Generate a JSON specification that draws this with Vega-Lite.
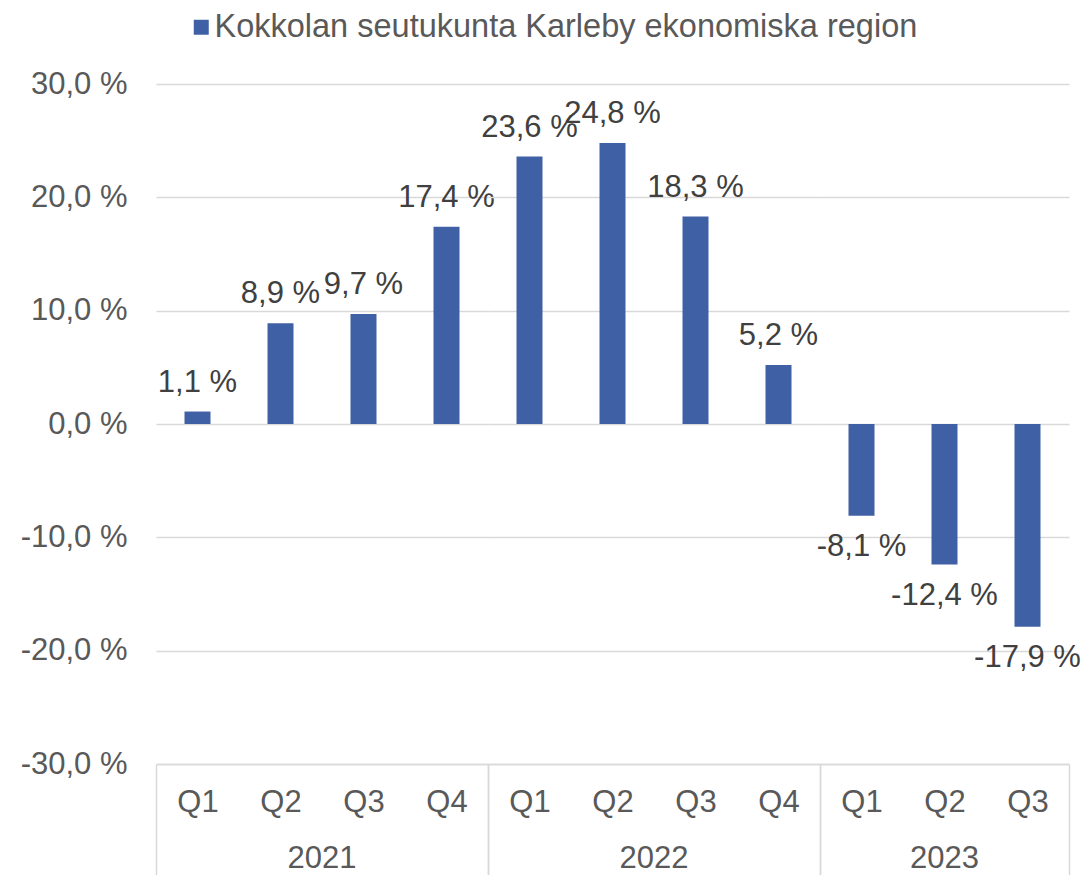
{
  "$schema": "https://vega.github.io/schema/vega-lite/v6.json",
  "padding": {"left": 20, "top": 11, "right": 0, "bottom": 0},
  "background": "white",
  "data": {"values": [
    {"year": "2021", "quarter": "Q1", "value": 0.011, "series": "Kokkolan seutukunta Karleby ekonomiska region"},
    {"year": "2021", "quarter": "Q2", "value": 0.089, "series": "Kokkolan seutukunta Karleby ekonomiska region"},
    {"year": "2021", "quarter": "Q3", "value": 0.097, "series": "Kokkolan seutukunta Karleby ekonomiska region"},
    {"year": "2021", "quarter": "Q4", "value": 0.174, "series": "Kokkolan seutukunta Karleby ekonomiska region"},
    {"year": "2022", "quarter": "Q1", "value": 0.236, "series": "Kokkolan seutukunta Karleby ekonomiska region"},
    {"year": "2022", "quarter": "Q2", "value": 0.248, "series": "Kokkolan seutukunta Karleby ekonomiska region"},
    {"year": "2022", "quarter": "Q3", "value": 0.183, "series": "Kokkolan seutukunta Karleby ekonomiska region"},
    {"year": "2022", "quarter": "Q4", "value": 0.052, "series": "Kokkolan seutukunta Karleby ekonomiska region"},
    {"year": "2023", "quarter": "Q1", "value": -0.081, "series": "Kokkolan seutukunta Karleby ekonomiska region"},
    {"year": "2023", "quarter": "Q2", "value": -0.124, "series": "Kokkolan seutukunta Karleby ekonomiska region"},
    {"year": "2023", "quarter": "Q3", "value": -0.179, "series": "Kokkolan seutukunta Karleby ekonomiska region"}
  ]},
  "facet": {
    "column": {
      "field": "year", "type": "ordinal",
      "header": {"title": null, "labelOrient": "bottom", "labelFontSize": 31, "labelColor": "#595959", "labelFont": "Liberation Sans", "labelPadding": 80}
    }
  },
  "spacing": 0,
  "bounds": "flush",
  "resolve": {"scale": {"x": "independent"}},
  "spec": {
    "width": {"step": 83},
    "height": 680,
    "encoding": {
      "x": {
        "field": "quarter", "type": "ordinal",
        "scale": {"paddingInner": 0, "paddingOuter": 0},
        "axis": {
          "title": null, "labelAngle": 0, "labelFontSize": 31, "labelColor": "#595959", "labelFont": "Liberation Sans",
          "domainColor": "#d9d9d9", "domainWidth": 1.5,
          "ticks": true, "tickBand": "extent", "tickSize": 111, "tickColor": "#d9d9d9", "tickWidth": 1.5,
          "tickOpacity": {"condition": {"test": "datum.index === -1 || datum.index === 1", "value": 1}, "value": 0},
          "labelPadding": -88
        }
      },
      "y": {
        "field": "value", "type": "quantitative",
        "scale": {"domain": [-0.3, 0.3], "nice": false},
        "axis": {
          "title": null, "format": ".1%", "values": [-0.3, -0.2, -0.1, 0, 0.1, 0.2, 0.3],
          "labelFontSize": 31, "labelColor": "#595959", "labelFont": "Liberation Sans", "labelPadding": 29,
          "domain": false, "ticks": false, "gridColor": "#d9d9d9", "gridWidth": 1.5
        }
      }
    },
    "layer": [
      {
        "mark": {"type": "bar", "width": 26},
        "encoding": {
          "color": {
            "field": "series", "type": "nominal",
            "scale": {"range": ["#4060A6"]},
            "legend": {"title": null, "orient": "none", "legendX": 29, "legendY": -73, "symbolType": "square", "symbolSize": 225, "symbolStrokeWidth": 0,
              "labelFontSize": 32.5, "labelColor": "#595959", "labelFont": "Liberation Sans", "labelLimit": 1000, "labelOffset": -3}
          }
        }
      },
      {
        "transform": [{"filter": "datum.value >= 0"}],
        "mark": {"type": "text", "baseline": "alphabetic", "dy": -20, "fontSize": 31, "font": "Liberation Sans", "color": "#404040"},
        "encoding": {"text": {"field": "value", "type": "quantitative", "format": ".1%"}}
      },
      {
        "transform": [{"filter": "datum.value < 0"}],
        "mark": {"type": "text", "baseline": "top", "dy": 16, "fontSize": 31, "font": "Liberation Sans", "color": "#404040"},
        "encoding": {"text": {"field": "value", "type": "quantitative", "format": ".1%"}}
      }
    ]
  },
  "config": {
    "view": {"stroke": null},
    "locale": {"number": {"decimal": ",", "thousands": " ", "grouping": [3], "currency": ["", " €"], "percent": " %", "minus": "-"}}
  }
}
